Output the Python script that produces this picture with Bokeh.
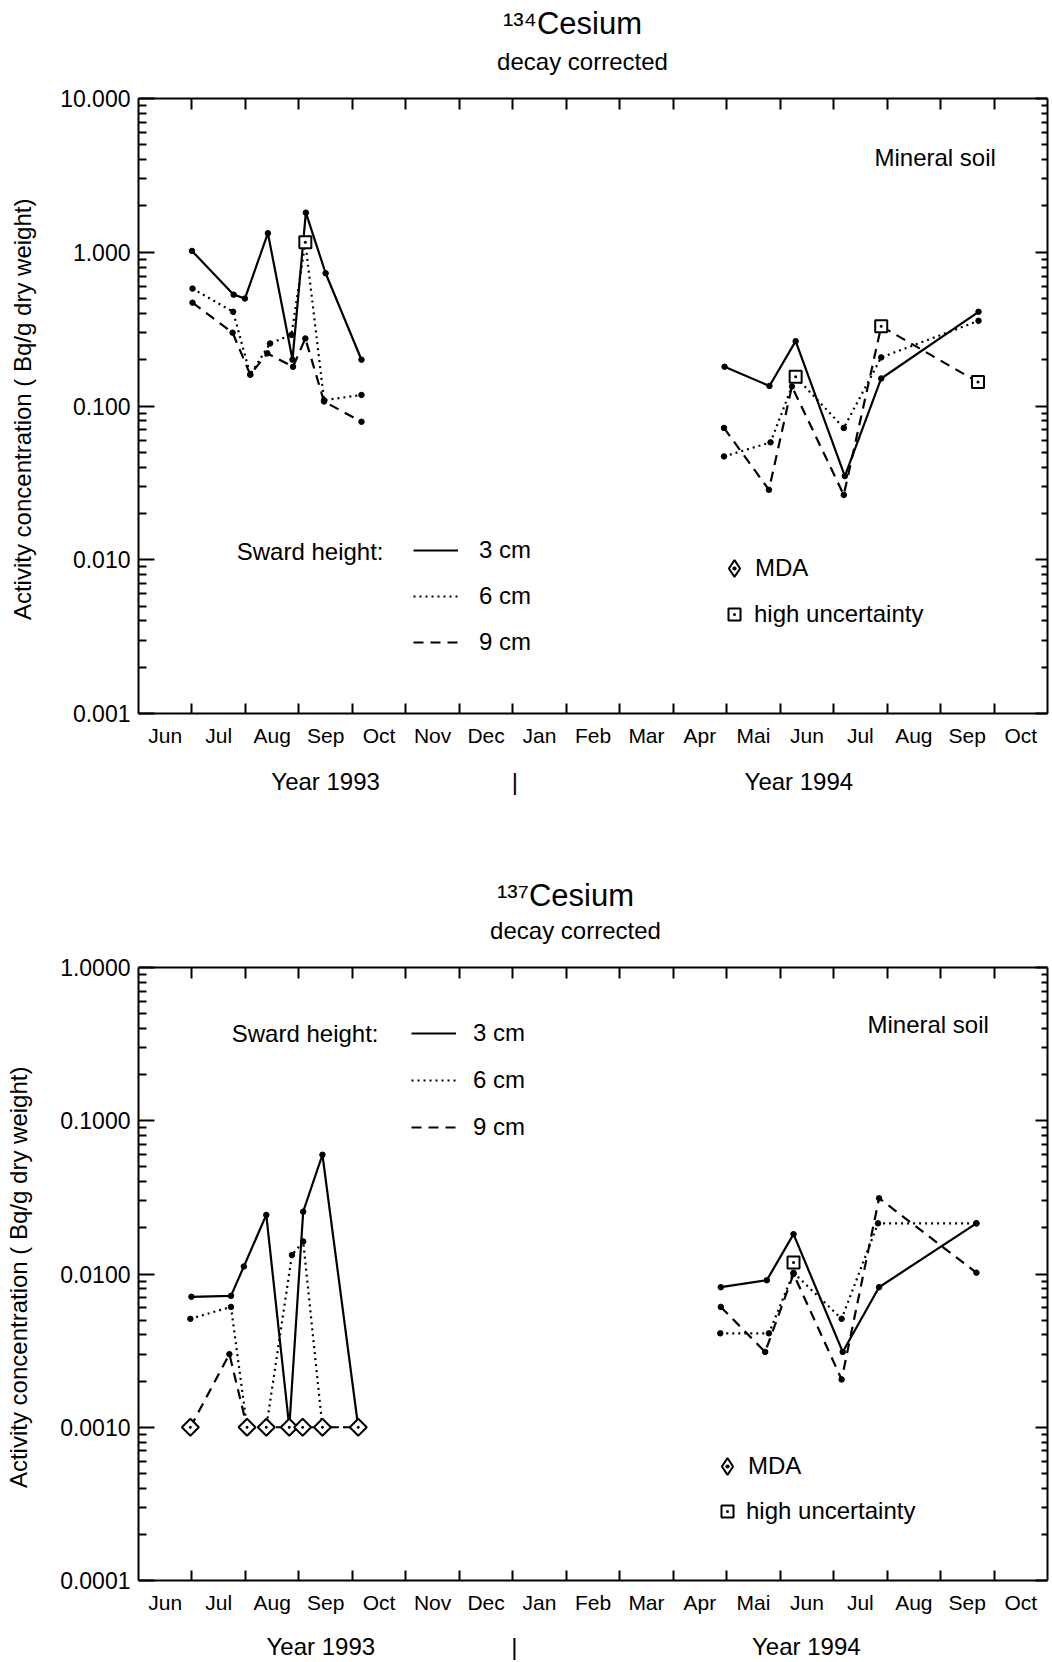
import math
from bokeh.plotting import figure
from bokeh.models import (Range1d, FixedTicker, LinearAxis, LogAxis, PrintfTickFormatter,
                          CustomJSTickFormatter, Label, Legend, LegendItem)
from bokeh.core.properties import value
from bokeh.layouts import column
from bokeh.embed import file_html
from bokeh.resources import INLINE

FONT = "Liberation Sans"

# ---------------- data ----------------
# x = months counted from 1 June 1993 (0 = start of Jun 1993, 7 = 1 Jan 1994)
month_labels = ["Jun", "Jul", "Aug", "Sep", "Oct", "Nov", "Dec", "Jan", "Feb",
                "Mar", "Apr", "Mai", "Jun", "Jul", "Aug", "Sep", "Oct"]
year_labels = ["Year 1993", "|", "Year 1994"]
series_names = ["3 cm", "6 cm", "9 cm"]

# 134Cs, 1993
cs134_93_x_3cm = [1.00, 1.78, 1.99, 2.42, 2.88, 3.13, 3.50, 4.17]
cs134_93_y_3cm = [1.02, 0.53, 0.50, 1.33, 0.20, 1.81, 0.73, 0.20]
cs134_93_x_6cm = [1.01, 1.77, 2.09, 2.46, 2.86, 3.12, 3.47, 4.17]
cs134_93_y_6cm = [0.58, 0.41, 0.16, 0.255, 0.29, 1.16, 0.109, 0.118]
cs134_93_x_9cm = [1.01, 1.76, 2.09, 2.41, 2.89, 3.12, 3.47, 4.17]
cs134_93_y_9cm = [0.47, 0.30, 0.16, 0.22, 0.18, 0.275, 0.107, 0.079]
# 134Cs, 1994
cs134_94_x_3cm = [10.96, 11.80, 12.29, 13.21, 13.89, 15.71]
cs134_94_y_3cm = [0.18, 0.135, 0.264, 0.035, 0.151, 0.41]
cs134_94_x_6cm = [10.95, 11.82, 12.29, 13.19, 13.89, 15.71]
cs134_94_y_6cm = [0.047, 0.058, 0.155, 0.072, 0.207, 0.358]
cs134_94_x_9cm = [10.95, 11.79, 12.22, 13.19, 13.89, 15.70]
cs134_94_y_9cm = [0.072, 0.0285, 0.134, 0.0264, 0.33, 0.143]
# 134Cs flags
cs134_unc_x = [3.12, 12.29, 13.89, 15.70]
cs134_unc_y = [1.16, 0.155, 0.33, 0.143]
cs134_mda_x = []
cs134_mda_y = []

# 137Cs, 1993
cs137_93_x_3cm = [0.99, 1.73, 1.97, 2.39, 2.82, 3.08, 3.44, 4.11]
cs137_93_y_3cm = [0.0071, 0.0072, 0.0112, 0.0243, 0.0010, 0.0255, 0.060, 0.0010]
cs137_93_x_6cm = [0.97, 1.73, 2.03, 2.39, 2.87, 3.08, 3.44, 4.11]
cs137_93_y_6cm = [0.0051, 0.0061, 0.0010, 0.0010, 0.0133, 0.0163, 0.0010, 0.0010]
cs137_93_x_9cm = [0.97, 1.70, 2.03, 2.39, 2.82, 3.08, 3.44, 4.11]
cs137_93_y_9cm = [0.0010, 0.0030, 0.0010, 0.0010, 0.0010, 0.0010, 0.0010, 0.0010]
# 137Cs, 1994
cs137_94_x_3cm = [10.89, 11.75, 12.25, 13.17, 13.85, 15.67]
cs137_94_y_3cm = [0.0082, 0.0091, 0.0182, 0.0031, 0.0082, 0.0214]
cs137_94_x_6cm = [10.88, 11.79, 12.25, 13.15, 13.83, 15.67]
cs137_94_y_6cm = [0.0041, 0.0041, 0.0102, 0.0051, 0.0214, 0.0214]
cs137_94_x_9cm = [10.89, 11.72, 12.25, 13.15, 13.85, 15.67]
cs137_94_y_9cm = [0.0061, 0.0031, 0.0100, 0.00205, 0.0312, 0.0102]
# 137Cs flags
cs137_unc_x = [12.25]
cs137_unc_y = [0.0119]
cs137_mda_x = [0.97, 2.03, 2.39, 2.82, 3.07, 3.44, 4.11]
cs137_mda_y = [0.0010, 0.0010, 0.0010, 0.0010, 0.0010, 0.0010, 0.0010]

DASHES = ["solid", "2 4", "10 7"]
BLANK = "return '';"


def text_axis(xpos, text, size, standoff):
    """A line-less axis carrying one text label (used for titles above the frame)."""
    return LinearAxis(ticker=FixedTicker(ticks=[xpos], minor_ticks=[]),
                      formatter=CustomJSTickFormatter(args=dict(t=text), code="return t;"),
                      major_tick_in=0, major_tick_out=0, minor_tick_in=0, minor_tick_out=0,
                      axis_line_color=None, major_tick_line_color=None, minor_tick_line_color=None,
                      major_label_text_font=FONT, major_label_text_font_size=size,
                      major_label_text_color="black", major_label_standoff=standoff)


def make_panel(cfg):
    H = cfg["height"]
    off = cfg["page_top"]
    fl, fr, ft, fb = cfg["frame"]  # page coords
    nmon = len(month_labels)
    mw = (fr - fl) / nmon
    lo, hi = cfg["yrange"]
    llo, lhi = math.log10(lo), math.log10(hi)
    dec = (fb - ft) / (lhi - llo)

    def X(px):
        return (px - fl) / mw

    def Y(py):
        return 10 ** (lhi - (py - ft) / dec)

    p = figure(width=1052, height=H, x_range=Range1d(0, nmon), y_range=Range1d(lo, hi),
               y_axis_type="log", output_backend="svg", toolbar_location=None, title=None,
               min_border_left=int(round(fl)), min_border_right=int(round(1052 - fr)),
               min_border_top=int(round(ft - off)), min_border_bottom=int(round(off + H - fb)))
    p.grid.visible = False
    p.outline_line_color = None
    p.background_fill_color = "white"
    p.border_fill_color = "white"

    decades = [10 ** e for e in range(int(round(llo)), int(round(lhi)) + 1)]
    minors = [k * 10 ** e for e in range(int(round(llo)), int(round(lhi))) for k in range(2, 10)]

    # left axis
    ya = p.yaxis[0]
    ya.ticker = FixedTicker(ticks=decades, minor_ticks=minors)
    ya.formatter = PrintfTickFormatter(format=cfg["yfmt"])
    ya.major_tick_in = 16
    ya.major_tick_out = 0
    ya.minor_tick_in = 8
    ya.minor_tick_out = 0
    ya.axis_line_width = 2
    ya.major_tick_line_width = 2
    ya.minor_tick_line_width = 2
    ya.major_label_text_font = FONT
    ya.major_label_text_font_size = "23px"
    ya.major_label_text_color = "black"
    ya.major_label_standoff = 8
    ya.axis_label = "Activity concentration ( Bq/g  dry weight)"
    ya.axis_label_text_font = FONT
    ya.axis_label_text_font_size = "24px"
    ya.axis_label_text_font_style = "normal"
    ya.axis_label_text_color = "black"
    ya.axis_label_standoff = cfg["ylab_standoff"]

    # right axis (no labels)
    ra = LogAxis(ticker=FixedTicker(ticks=decades, minor_ticks=minors),
                 formatter=CustomJSTickFormatter(code=BLANK),
                 major_tick_in=12, major_tick_out=0, minor_tick_in=6, minor_tick_out=0,
                 major_label_text_font_size="2px", major_label_standoff=0,
                 axis_line_width=2, major_tick_line_width=2, minor_tick_line_width=2)
    p.add_layout(ra, "right")

    # bottom axis: labels centred on months, tick marks at month boundaries
    centers = [i + 0.5 for i in range(nmon)]
    bounds = list(range(1, nmon))
    xa = p.xaxis[0]
    xa.ticker = FixedTicker(ticks=centers, minor_ticks=bounds)
    xa.formatter = CustomJSTickFormatter(args=dict(labels=month_labels),
                                         code="const i = Math.floor(tick); return (i >= 0 && i < labels.length) ? labels[i] : '';")
    xa.major_tick_in = 0
    xa.major_tick_out = 0
    xa.minor_tick_in = 10
    xa.minor_tick_out = 0
    xa.axis_line_width = 2
    xa.minor_tick_line_width = 2
    xa.major_label_text_font = FONT
    xa.major_label_text_font_size = "21px"
    xa.major_label_text_color = "black"
    xa.major_label_standoff = 10

    # year labels as a second, line-less axis below
    ypos = cfg["year_pos"]
    yrax = LinearAxis(ticker=FixedTicker(ticks=ypos, minor_ticks=[]),
                      formatter=CustomJSTickFormatter(args=dict(pos=ypos, labels=year_labels),
                                                      code="let b = -1, d = 1e9; for (let i = 0; i < pos.length; i++) { const e = Math.abs(pos[i] - tick); if (e < d) { d = e; b = i; } } return d < 0.01 ? labels[b] : '';"),
                      major_tick_in=0, major_tick_out=0, minor_tick_in=0, minor_tick_out=0,
                      axis_line_color=None, major_tick_line_color=None, minor_tick_line_color=None,
                      major_label_text_font=FONT, major_label_text_font_size="24px",
                      major_label_text_color="black", major_label_standoff=cfg["year_standoff"])
    p.add_layout(yrax, "below")

    ta = LinearAxis(ticker=FixedTicker(ticks=centers, minor_ticks=bounds),
                    formatter=CustomJSTickFormatter(code=BLANK),
                    major_tick_in=0, major_tick_out=0, minor_tick_in=11, minor_tick_out=0,
                    major_label_text_font_size="2px", major_label_standoff=0,
                    axis_line_width=2, minor_tick_line_width=2)
    p.add_layout(ta, "above")

    # titles, stacked outward from the frame
    t = cfg["titles"]
    p.add_layout(text_axis(X(t["dc"][0]), "decay corrected", "24px", t["dc"][1]), "above")
    p.add_layout(text_axis(X(t["cs"][0]), t["cs"][2], "31px", t["cs"][1]), "above")

    # data
    s = cfg["series"]
    line_renderers = []
    for i in range(3):
        x93, y93, x94, y94 = s[i]
        r = p.line(x93, y93, line_color="black", line_width=2.2, line_dash=DASHES[i])
        p.line(x94, y94, line_color="black", line_width=2.2, line_dash=DASHES[i])
        p.scatter(x93 + x94, y93 + y94, size=5.5, color="black")
        line_renderers.append(r)

    p.scatter(cfg["mda"][0], cfg["mda"][1], marker="square_dot", angle=math.pi / 4,
              size=12, fill_color="white", line_color="black", line_width=2)
    unc = p.scatter(cfg["unc"][0], cfg["unc"][1], marker="square_dot", size=12,
                    fill_color="white", line_color="black", line_width=2)
    # legend-only glyph for MDA (diamond)
    mda_key = p.scatter([float("nan")], [float("nan")], marker="diamond_dot", size=16,
                        fill_color="white", line_color="black", line_width=2)

    common = dict(orientation="vertical", padding=0, margin=0, border_line_color=None,
                  background_fill_alpha=0, label_text_font=FONT, label_text_font_size="24px",
                  label_text_color="black")
    lg = cfg["sward_leg"]
    leg1 = Legend(items=[LegendItem(label=value(series_names[i]), renderers=[line_renderers[i]]) for i in range(3)],
                  location=(int(round(lg[0] - fl)), int(round(fb - lg[1]))),
                  glyph_width=45, glyph_height=30, label_height=30, spacing=int(lg[2]),
                  label_standoff=int(lg[3]), **common)
    p.add_layout(leg1)
    m = cfg["mda_leg"]
    leg2 = Legend(items=[LegendItem(label=value("MDA"), renderers=[mda_key])],
                  location=(int(round(m[0] - 21 - fl)), int(round(fb - m[1] - 21))),
                  glyph_width=42, glyph_height=42, label_height=30, spacing=0,
                  label_standoff=int(m[2]), **common)
    p.add_layout(leg2)
    u = cfg["unc_leg"]
    leg3 = Legend(items=[LegendItem(label=value("high uncertainty"), renderers=[unc])],
                  location=(int(round(u[0] - 15 - fl)), int(round(fb - u[1] - 15))),
                  glyph_width=30, glyph_height=30, label_height=30, spacing=0,
                  label_standoff=int(u[2]), **common)
    p.add_layout(leg3)

    def lab(px, py, text, size, align="center"):
        p.add_layout(Label(x=X(px), y=Y(py), text=text, text_font=FONT, text_font_size=size,
                           text_align=align, text_baseline="middle", text_color="black"))

    lab(cfg["sward_txt"][0], cfg["sward_txt"][1], "Sward height:", "24px", "right")
    lab(cfg["soil"][0], cfg["soil"][1], "Mineral soil", "24px", "left")
    return p


top_cfg = dict(
    height=832, page_top=0, frame=(138, 1047, 98, 713), yrange=(0.001, 10.0), yfmt="%.3f",
    ylab_standoff=21, year_standoff=18,
    series=[(cs134_93_x_3cm, cs134_93_y_3cm, cs134_94_x_3cm, cs134_94_y_3cm),
            (cs134_93_x_6cm, cs134_93_y_6cm, cs134_94_x_6cm, cs134_94_y_6cm),
            (cs134_93_x_9cm, cs134_93_y_9cm, cs134_94_x_9cm, cs134_94_y_9cm)],
    mda=(cs134_mda_x, cs134_mda_y), unc=(cs134_unc_x, cs134_unc_y),
    sward_leg=(413, 657, 16, 21), mda_leg=(734, 568, 0), unc_leg=(734, 614, 5),
    sward_txt=(383, 551), soil=(874, 157),
    # (centre x in page px, standoff) for each title row
    titles=dict(cs=(572, 4, "\u00b9\u00b3\u2074Cesium"), dc=(582, 24)),
    year_pos=[3.5, 7.04, 12.35],
)

bot_cfg = dict(
    height=830, page_top=832, frame=(138, 1047, 967, 1581), yrange=(0.0001, 1.0), yfmt="%.4f",
    ylab_standoff=25, year_standoff=16,
    series=[(cs137_93_x_3cm, cs137_93_y_3cm, cs137_94_x_3cm, cs137_94_y_3cm),
            (cs137_93_x_6cm, cs137_93_y_6cm, cs137_94_x_6cm, cs137_94_y_6cm),
            (cs137_93_x_9cm, cs137_93_y_9cm, cs137_94_x_9cm, cs137_94_y_9cm)],
    mda=(cs137_mda_x, cs137_mda_y), unc=(cs137_unc_x, cs137_unc_y),
    sward_leg=(411, 1143, 17, 17), mda_leg=(727, 1467, 0), unc_leg=(727, 1512, 4),
    sward_txt=(378, 1033), soil=(867, 1024),
    titles=dict(cs=(565, 1, "\u00b9\u00b3\u2077Cesium"), dc=(575, 24)),
    year_pos=[3.41, 7.03, 12.49],
)

p1 = make_panel(top_cfg)
p2 = make_panel(bot_cfg)
layout = column(p1, p2, spacing=0)

open("out.html", "w").write(file_html(layout, INLINE))
